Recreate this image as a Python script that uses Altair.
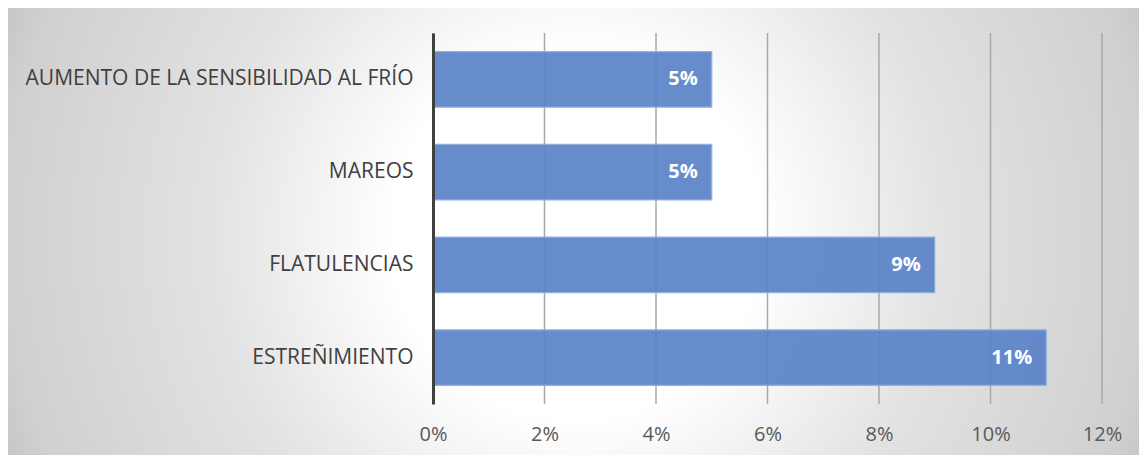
import altair as alt
import pandas as pd

categories = [
    "AUMENTO DE LA SENSIBILIDAD AL FRÍO",
    "MAREOS",
    "FLATULENCIAS",
    "ESTREÑIMIENTO",
]
values = [5, 5, 9, 11]
tick_values = [0, 2, 4, 6, 8, 10, 12]

df = pd.DataFrame({"cat": categories, "val": values,
                   "label": [f"{v}%" for v in values]})
ticks_df = pd.DataFrame({"t": tick_values})
bg_df = pd.DataFrame({"a": [0]})

W, H = 669, 371
FONT = "Open Sans"

gradient = {
    "gradient": "radial",
    "x1": 0.5, "y1": 0.5, "r1": 0,
    "x2": 0.5, "y2": 0.5, "r2": 0.54,
    "stops": [
        {"offset": 0.0, "color": "#ffffff"},
        {"offset": 0.3, "color": "#ffffff"},
        {"offset": 0.6, "color": "#e2e2e2"},
        {"offset": 0.93, "color": "#d0d0d0"},
        {"offset": 1.0, "color": "#c6c6c6"},
    ],
}

xscale = alt.Scale(domain=[0, 12], nice=False, zero=True)
yscale = alt.Scale(domain=categories, paddingInner=0.4, paddingOuter=0.2)

bg = alt.Chart(bg_df).mark_rect(fill=gradient, strokeWidth=0).encode(
    x=alt.value(-426), x2=alt.value(714), y=alt.value(-28), y2=alt.value(430)
)

grid = alt.Chart(ticks_df).mark_rule(color="#a8a8a8", strokeWidth=1.5).encode(
    x=alt.X("t:Q", scale=xscale,
            axis=alt.Axis(values=tick_values, labelExpr="datum.value + '%'",
                          domain=False, ticks=False, grid=False,
                          labelFlush=False, labelOverlap=False,
                          labelFont=FONT, labelFontSize=20, labelColor="#595959",
                          labelPadding=20, title=None, zindex=1)),
    y=alt.value(0), y2=alt.value(H),
)

bars = alt.Chart(df).mark_bar(color="#5b84c9", opacity=0.93,
                              stroke="#8eabdc", strokeWidth=1.2).encode(
    x=alt.X("val:Q", scale=xscale),
    y=alt.Y("cat:N", scale=yscale, sort=categories,
            axis=alt.Axis(title=None, ticks=False, domain=True,
                          domainColor="#404040", domainWidth=3,
                          labelFont=FONT, labelFontSize=21, labelColor="#404040",
                          labelPadding=20, labelLimit=600, zindex=1)),
)

text = alt.Chart(df).mark_text(align="right", baseline="middle", dx=-14,
                               color="white", fontWeight="bold",
                               font=FONT, fontSize=20).encode(
    x=alt.X("val:Q", scale=xscale),
    y=alt.Y("cat:N", scale=yscale, sort=categories),
    text="label:N",
)

chart = alt.layer(bg, grid, bars, text).properties(
    width=W, height=H,
    autosize=alt.AutoSizeParams(type="none"),
    padding={"left": 425, "top": 25, "right": 37, "bottom": 51},
).configure_view(stroke=None).configure(background="white")

chart.save("out.html", embed_options={"renderer": "svg", "actions": False})
